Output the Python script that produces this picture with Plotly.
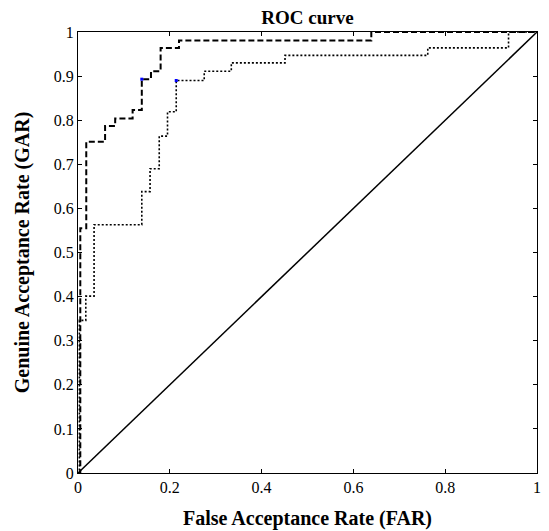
import plotly.graph_objects as go

# Dashed ROC curve (step operating points)
far_a = [0, 0.005, 0.018, 0.059, 0.081, 0.119, 0.139, 0.159, 0.180, 0.220, 0.639, 1.0]
gar_a = [0, 0.555, 0.751, 0.787, 0.804, 0.823, 0.893, 0.911, 0.964, 0.981, 1.0, 1.0]

# Dotted ROC curve
far_b = [0, 0.003, 0.017, 0.035, 0.139, 0.157, 0.177, 0.195, 0.214, 0.275, 0.334, 0.451, 0.762, 0.938, 1.0]
gar_b = [0, 0.346, 0.401, 0.563, 0.638, 0.690, 0.764, 0.819, 0.890, 0.911, 0.930, 0.947, 0.964, 1.0, 1.0]

# Chance diagonal
far_diag = [0, 1]
gar_diag = [0, 1]

# Highlighted points
mark_far = [0.139, 0.214]
mark_gar = [0.893, 0.890]

x_ticks = [0, 0.2, 0.4, 0.6, 0.8, 1]
x_labels = ["0", "0.2", "0.4", "0.6", "0.8", "1"]
y_ticks = [0, 0.1, 0.2, 0.3, 0.4, 0.5, 0.6, 0.7, 0.8, 0.9, 1]
y_labels = ["0", "0.1", "0.2", "0.3", "0.4", "0.5", "0.6", "0.7", "0.8", "0.9", "1"]

font_family = "Liberation Serif, Times New Roman, serif"

# The page body adds an 8px margin, so the figure is sized to fit the window
W, H = 541, 523

fig = go.Figure()
fig.add_trace(go.Scatter(x=far_diag, y=gar_diag, mode="lines",
                         line=dict(color="black", width=1.5), showlegend=False))
fig.add_trace(go.Scatter(x=far_b, y=gar_b, mode="lines", line_shape="hv",
                         line=dict(color="black", width=1.6, dash="2px,2px"), showlegend=False))
fig.add_trace(go.Scatter(x=far_a, y=gar_a, mode="lines", line_shape="hv",
                         line=dict(color="black", width=2, dash="6px,3px"), showlegend=False))
fig.add_trace(go.Scatter(x=mark_far, y=mark_gar, mode="markers",
                         marker=dict(color="blue", size=3, symbol="square", line=dict(width=0)),
                         showlegend=False))

axis_common = dict(
    showgrid=False, zeroline=False, showline=True, linecolor="black", linewidth=1,
    mirror="ticks", ticks="inside", ticklen=4, tickcolor="black", automargin=False,
    tickfont=dict(family=font_family, size=16, color="black"),
)

fig.update_layout(
    width=W, height=H,
    margin=dict(l=70, r=12, t=24, b=58),
    plot_bgcolor="white", paper_bgcolor="white",
    title=dict(text="<b>ROC curve</b>", x=0.5, xanchor="center", xref="paper",
               y=1 - 9 / H, yanchor="middle",
               font=dict(family=font_family, size=19, color="black")),
    xaxis=dict(range=[0, 1], tickvals=x_ticks, ticktext=x_labels,
               title=dict(text="<b>False Acceptance Rate (FAR)</b>", standoff=15,
                          font=dict(family=font_family, size=20, color="black")),
               **axis_common),
    yaxis=dict(range=[0, 1], tickvals=y_ticks, ticktext=y_labels,
               title=dict(text="<b>Genuine Acceptance Rate (GAR)</b>", standoff=18,
                          font=dict(family=font_family, size=20, color="black")),
               **axis_common),
)

fig.write_html("out.html")
